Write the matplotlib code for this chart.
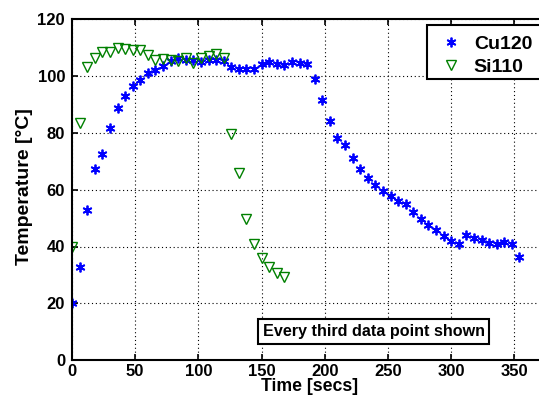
import numpy as np
import matplotlib
matplotlib.use("Agg")
import matplotlib.pyplot as plt
from matplotlib.patches import Rectangle

plt.rcParams['font.family'] = ['Liberation Sans', 'DejaVu Sans']
plt.rcParams['font.weight'] = 'bold'

# 每三个采样点取一个, 间隔 6 s
t_cu = np.arange(0, 355, 6)
cu120 = [20.0, 32.9, 52.8, 67.3, 72.7, 81.9, 88.8, 93.2, 96.4, 98.6,
         101.1, 102.2, 103.5, 105.2, 106.6, 105.8, 105.8, 105.0, 105.8, 105.6,
         105.5, 103.2, 102.5, 102.6, 102.7, 104.4, 105.1, 104.3, 104.0, 105.1,
         104.8, 104.4, 99.0, 91.8, 84.1, 78.4, 75.6, 71.1, 67.4, 64.2,
         61.7, 59.6, 57.8, 56.0, 54.9, 52.1, 49.6, 47.7, 45.7, 43.8,
         42.1, 40.8, 44.2, 42.9, 42.2, 41.3, 40.8, 41.6, 41.0, 36.4]

t_si = np.arange(0, 169, 6)
si110 = [40.0, 83.5, 103.2, 106.5, 108.4, 108.6, 110.1, 109.6, 109.2, 109.2,
         107.6, 105.8, 106.2, 105.6, 105.2, 106.4, 104.6, 106.3, 107.0, 107.7,
         106.4, 79.7, 65.8, 49.6, 40.9, 36.1, 32.9, 30.8, 29.4]

xticks = [0, 50, 100, 150, 200, 250, 300, 350]
yticks = [0, 20, 40, 60, 80, 100, 120]

fig = plt.figure(figsize=(5.39, 4.05), dpi=100)
# 坐标轴右侧超出画布, 与原图一样被裁掉
ax = fig.add_axes([72 / 539, 45 / 405, 505.6 / 539, 340.5 / 405])

ax.plot(t_cu, cu120, linestyle='none', marker=(6, 2, 0), markersize=7,
        markeredgewidth=1.3, color='#0000ff', label='Cu120')
ax.plot(t_si, si110, linestyle='none', marker='v', markersize=6.5,
        markeredgewidth=1.0, markerfacecolor='none', markeredgecolor='#008000',
        label='Si110')

ax.set_xlim(0, 400)
ax.set_ylim(0, 120)
ax.set_xticks(xticks)
ax.set_yticks(yticks)
ax.tick_params(direction='in', labelsize=12, width=1.2, length=4, top=True, right=True)
ax.tick_params(axis='x', pad=3)
ax.tick_params(axis='y', pad=5)
for lab in ax.get_xticklabels() + ax.get_yticklabels():
    lab.set_fontweight('bold')

ax.grid(True, color='k', linestyle=(0, (1, 2.5)), linewidth=0.8)
for s in ax.spines.values():
    s.set_linewidth(1.5)

ax.set_xlabel('Time [secs]', fontsize=12.7, fontweight='bold')
ax.set_ylabel('Temperature [°C]', fontsize=14, fontweight='bold')
ax.xaxis.set_label_coords(0.469, -0.052)
ax.yaxis.set_label_coords(-0.077, 0.51)

# 图例框右边被裁掉, 单独画框
ax.add_patch(Rectangle((427 / 539, 326 / 405), 140 / 539, 54 / 405,
                       transform=fig.transFigure, facecolor='white',
                       edgecolor='k', linewidth=1.5, zorder=4.5, clip_on=False))
leg = ax.legend(loc='upper left', bbox_to_anchor=(0.716, 0.967), fontsize=14,
                frameon=False, handletextpad=0.6,
                borderpad=0.25, labelspacing=0.25, handlelength=1.2,
                borderaxespad=0)
for txt in leg.get_texts():
    txt.set_fontweight('bold')

ax.text(0.597, 0.0837, 'Every third data point shown', transform=ax.transAxes,
        fontsize=11.6, fontweight='bold', ha='center', va='center',
        bbox=dict(boxstyle='square,pad=0.28', facecolor='white',
                  edgecolor='k', linewidth=1.5))

fig.savefig('out.png', dpi=100)
